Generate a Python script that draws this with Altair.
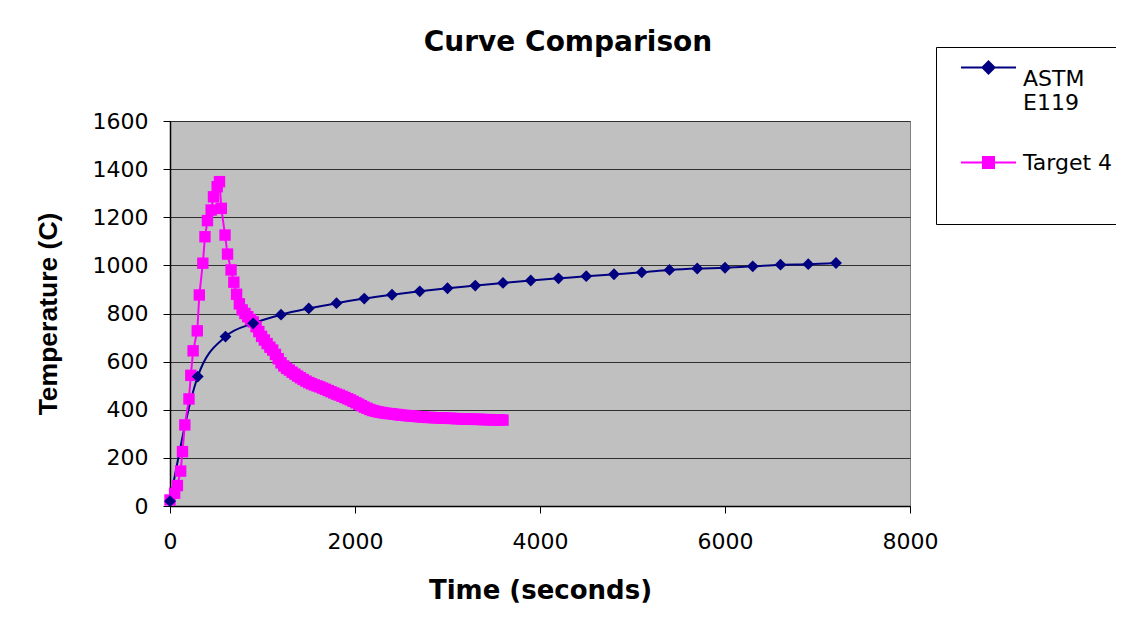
import altair as alt
import pandas as pd

FONT = "DejaVu Sans"
FONT_Y = "Liberation Sans"

series_names = ["ASTM E119", "Target 4"]
series_colors = ["#000080", "#FF00FF"]

astm_time = [0, 300, 600, 900, 1200, 1500, 1800, 2100, 2400, 2700, 3000, 3300,
             3600, 3900, 4200, 4500, 4800, 5100, 5400, 5700, 6000, 6300, 6600,
             6900, 7200]
astm_temp = [20, 538, 704, 759, 795, 821, 843, 862, 878, 892, 905, 916,
             927, 937, 946, 955, 963, 971, 981, 987, 990, 996, 1003,
             1005, 1010]

target_time = [0, 50, 80, 115, 135, 160, 205, 225, 250, 295, 317, 355, 378,
               405, 445, 470, 510, 535,
               555, 595, 622, 660, 690, 720, 750, 780, 810, 840, 870, 900,
               930, 960, 990, 1020, 1050, 1080, 1110, 1140, 1170, 1200, 1230,
               1260, 1290, 1320, 1350, 1380, 1410, 1440, 1470, 1500, 1530,
               1560, 1590, 1620, 1650, 1680, 1710, 1740, 1770, 1800, 1830,
               1860, 1890, 1920, 1950, 1980, 2010, 2040, 2070, 2100, 2130,
               2160, 2190, 2220, 2250, 2280, 2310, 2340, 2370, 2400, 2430,
               2460, 2490, 2520, 2550, 2580, 2610, 2640, 2670, 2700, 2730,
               2760, 2790, 2820, 2850, 2880, 2910, 2940, 2970, 3000, 3030,
               3060, 3090, 3120, 3150, 3180, 3210, 3240, 3270, 3300, 3330,
               3360, 3390, 3420, 3450, 3480, 3510, 3540, 3570, 3600]
target_temp = [25, 53, 85, 145, 226, 337, 445, 543, 645, 728, 877, 1009, 1119,
               1186, 1230, 1285, 1327, 1348,
               1237, 1126, 1047, 981, 930, 880, 840, 815, 800, 787, 775, 765,
               745, 725, 705, 690, 675, 660, 648, 630, 612, 595, 582,
               572, 565, 556, 548, 540, 533, 526, 519, 513, 508,
               503, 499, 495, 490, 485, 480, 475, 470, 465, 461,
               456, 451, 446, 441, 435, 429, 423, 417, 411, 406,
               401, 397, 394, 391, 389, 387, 385, 384, 383, 381,
               380, 378, 377, 376, 375, 374, 373, 372, 371, 370,
               369, 368, 368, 367, 367, 366, 366, 365, 365, 364,
               364, 363, 363, 362, 362, 361, 361, 361, 360, 360,
               360, 359, 359, 359, 358, 358, 358, 358, 357]

x_ticks = [0, 2000, 4000, 6000, 8000]
y_ticks = [0, 200, 400, 600, 800, 1000, 1200, 1400, 1600]

astm_df = pd.DataFrame({"time": astm_time, "temp": astm_temp, "series": series_names[0]})
target_df = pd.DataFrame({"time": target_time, "temp": target_temp, "series": series_names[1]})
all_df = pd.concat([astm_df, target_df], ignore_index=True)

x_enc = alt.X("time:Q", scale=alt.Scale(domain=[0, 8000], nice=False),
              axis=alt.Axis(values=x_ticks, title="Time (seconds)", grid=False, format="d",
                            labelPadding=18, titlePadding=25, tickSize=7, labelFlush=False,
                            titleFont=FONT, titleFontSize=26))
y_enc = alt.Y("temp:Q", scale=alt.Scale(domain=[0, 1600], nice=False),
              axis=alt.Axis(values=y_ticks, title="Temperature (C)", grid=True, format="d",
                            labelPadding=15, titlePadding=30, tickSize=7, labelFlush=False,
                            titleFont=FONT_Y, titleFontSize=26.5))

astm_line = alt.Chart(astm_df).mark_line(color=series_colors[0], strokeWidth=2,
                                          interpolate="monotone").encode(x=x_enc, y=y_enc)
astm_pts = alt.Chart(astm_df).mark_point(shape="diamond", filled=True, opacity=1,
                                         color=series_colors[0], size=140).encode(x=x_enc, y=y_enc)
target_line = alt.Chart(target_df).mark_line(color=series_colors[1], strokeWidth=2).encode(x=x_enc, y=y_enc)
target_pts = alt.Chart(target_df).mark_point(shape="square", filled=True, opacity=1,
                                             color=series_colors[1], size=130).encode(x=x_enc, y=y_enc)

sym_paths = [
    "M-1,-0.4H1M0,-0.62L0.22,-0.4L0,-0.18L-0.22,-0.4Z",
    "M-1,0H1M-0.2,-0.2H0.2V0.2H-0.2Z",
]

leg = alt.Legend(
    title="_" * 24, titleOrient="bottom", titleFontSize=18, titlePadding=29,
    titleColor="white", titleLimit=400, titleFont=FONT,
    orient="none", legendX=766, legendY=-74,
    padding=3, symbolOffset=21, symbolSize=3025, symbolStrokeWidth=2,
    labelFont=FONT, labelFontSize=22, labelColor="black", labelOffset=6,
    labelExpr="datum.label == 'ASTM E119' ? ['ASTM', 'E119'] : datum.label",
    labelBaseline="middle", rowPadding=20, strokeColor="black", fillColor="white",
    cornerRadius=0, symbolOpacity=1,
)

legend_layer = alt.Chart(all_df).transform_filter("false").mark_point(
    filled=False, strokeWidth=2, opacity=1
).encode(
    x=x_enc, y=y_enc,
    fill=alt.Fill("series:N", scale=alt.Scale(domain=series_names, range=series_colors), legend=leg),
    stroke=alt.Stroke("series:N", scale=alt.Scale(domain=series_names, range=series_colors), legend=leg),
    shape=alt.Shape("series:N", scale=alt.Scale(domain=series_names, range=sym_paths), legend=leg),
)

chart = alt.layer(astm_line, target_line, target_pts, astm_pts, legend_layer).properties(
    width=740, height=385,
    title=alt.Title("Curve Comparison", font=FONT, fontSize=28, fontWeight="bold",
                    anchor="middle", dx=28, dy=24, offset=14, color="black"),
    autosize=alt.AutoSizeParams(type="none"),
    padding={"left": 162, "top": 113, "right": 206, "bottom": 116},
    background="white",
).configure_view(
    fill="#C0C0C0", stroke="#808080", strokeWidth=1
).configure_axis(
    labelFont=FONT, labelFontSize=22, labelColor="black",
    titleFontWeight="bold", titleColor="black",
    domainColor="black", domainWidth=1.5, tickColor="black", tickWidth=1,
    gridColor="#303030", gridWidth=1,
)

chart.save("out.html", embed_options={"renderer": "svg", "actions": False})
